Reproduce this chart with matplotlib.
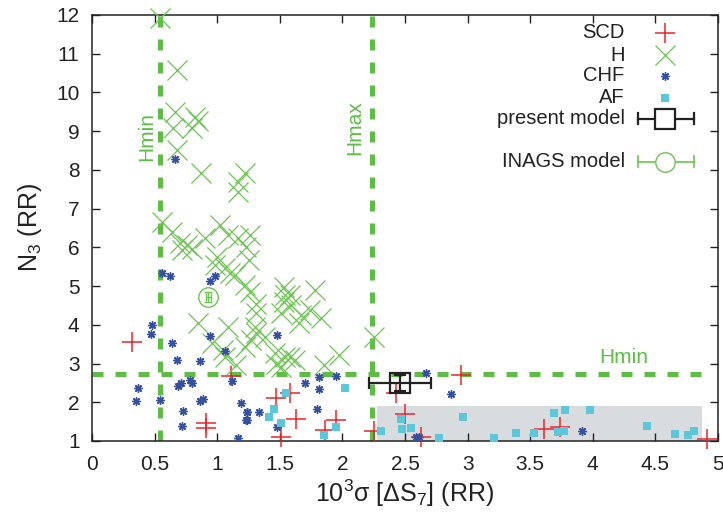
import matplotlib
matplotlib.use("Agg")
import matplotlib.pyplot as plt

plt.rcParams['font.family'] = ['Liberation Sans', 'DejaVu Sans']
plt.rcParams['mathtext.default'] = 'regular'

# ---------------- data ----------------
scd_x = [0.32, 1.11, 0.91, 0.91, 1.58, 1.47, 1.63, 1.51, 1.86, 1.95, 2.25, 2.43,
         2.95, 2.50, 2.63, 3.61, 3.74, 4.91]
scd_y = [3.56, 2.68, 1.47, 1.33, 2.23, 2.12, 1.57, 1.10, 1.28, 1.54, 1.26, 2.25,
         2.70, 1.71, 1.11, 1.31, 1.37, 1.06]

h_x = [0.54, 0.68, 0.66, 0.65, 0.82, 0.80, 0.85, 0.68, 0.87, 1.22, 1.17, 1.17,
       0.56, 0.64, 0.70, 0.76, 0.72, 0.80, 0.90, 1.02, 1.09, 1.17, 0.98, 1.06,
       1.14, 1.22, 1.23, 1.00, 1.10,
       1.26, 1.25, 1.26, 1.31, 1.31, 1.53, 1.54, 1.58, 1.53, 1.59, 1.78, 1.74,
       1.67, 1.83, 1.51,
       1.30, 1.27, 1.38, 1.46, 1.54, 1.51, 1.62, 1.65, 1.85, 1.97, 2.25,
       0.85, 1.09, 0.96, 1.06, 1.22, 1.05, 1.31, 1.15, 1.47, 1.58]
h_y = [11.92, 10.57, 9.50, 9.07, 9.37, 9.07, 9.26, 8.51, 7.91, 7.91, 7.69, 7.43,
       6.66, 6.40, 6.10, 6.06, 5.93, 5.97, 6.23, 6.57, 6.32, 6.23, 5.54, 5.46,
       5.28, 5.03, 6.01, 5.76, 5.33,
       6.32, 5.67, 4.85, 4.55, 4.30, 4.98, 4.77, 4.77, 4.60, 4.51, 4.90, 4.38,
       4.25, 4.17, 4.30,
       3.95, 3.61, 3.69, 3.26, 3.18, 2.92, 3.09, 4.04, 2.96, 3.22, 3.69,
       4.04, 3.95, 3.52, 3.18, 3.43, 3.35, 3.78, 2.95, 3.00, 3.18]

chf_x = [0.48, 0.47, 0.64, 0.68, 0.86, 0.94, 1.06, 1.12, 0.37, 0.35, 0.54, 0.69,
         0.71, 0.78, 0.80, 0.86, 0.89, 0.73, 0.72, 1.19, 1.24, 1.23, 1.17,
         0.56, 0.62, 0.94, 0.98, 0.66,
         1.48, 1.70, 1.81, 1.95, 1.81, 1.80, 1.33, 1.24, 1.24, 1.48,
         2.67, 2.87, 2.59, 2.61, 3.91]
chf_y = [3.99, 3.77, 3.53, 3.08, 3.06, 3.71, 3.32, 2.55, 2.36, 2.03, 2.05, 2.43,
         2.50, 2.57, 2.49, 2.04, 2.08, 1.78, 1.40, 1.97, 1.75, 1.54, 1.08,
         5.34, 5.25, 5.13, 5.25, 8.28,
         3.74, 2.49, 2.64, 2.68, 2.33, 1.82, 1.74, 1.76, 1.54, 1.37,
         2.76, 2.21, 1.11, 1.11, 1.26]

af_x = [1.55, 1.45, 1.41, 1.51, 1.95, 1.85, 2.02, 2.31,
        2.47, 2.48, 2.55, 2.96, 2.77, 3.21, 3.39, 3.53, 3.69, 3.78, 3.98,
        3.72, 3.77, 4.43, 4.66, 4.76, 4.81]
af_y = [2.23, 1.82, 1.61, 1.46, 1.35, 1.15, 2.36, 1.26,
        1.58, 1.31, 1.33, 1.61, 1.09, 1.09, 1.20, 1.21, 1.72, 1.79, 1.79,
        1.23, 1.26, 1.38, 1.17, 1.15, 1.25]

present_x, present_y = [2.46], [2.50]
present_xerr, present_yerr = [0.25], [0.2]
inags_x, inags_y = [0.93], [4.72]
inags_xerr, inags_yerr = [0.02], [0.12]

hmin_x = 0.54
hmax_x = 2.235
hmin_y = 2.73
hline_xrange = [0.0, 4.88]
af_box_x = [2.28, 4.87]
af_box_y = [1.0, 1.9]

legend_labels = ['SCD', 'H', 'CHF', 'AF', 'present model', 'INAGS model']

xticks = [0, 0.5, 1, 1.5, 2, 2.5, 3, 3.5, 4, 4.5, 5]
xticklabels = ['0', '0.5', '1', '1.5', '2', '2.5', '3', '3.5', '4', '4.5', '5']
yticks = list(range(1, 13))

# ---------------- style ----------------
GREEN = '#5dbd45'
XGREEN = '#6cc453'
RED = '#e8262b'
BLUE = '#34509e'
CYAN = '#5cc6da'
GREY = '#d9dcdf'
ast = (8, 2, 0)

fig = plt.figure(figsize=(7.23, 5.13), dpi=100)
ax = fig.add_axes([92 / 723, 1 - 441 / 513, 626 / 723, 426 / 513])
ax.set_xlim(0, 5)
ax.set_ylim(1, 12)

ax.fill_between(af_box_x, af_box_y[0], af_box_y[1], color=GREY, lw=0, zorder=0)

dash = (2.2, 2.4)
ax.plot([hmin_x, hmin_x], [1, 12], color=GREEN, lw=3.6, dashes=dash, zorder=1,
        dash_capstyle='butt')
ax.plot([hmax_x, hmax_x], [1, 12], color=GREEN, lw=3.6, dashes=dash, zorder=1,
        dash_capstyle='butt')
ax.plot(hline_xrange, [hmin_y, hmin_y], color=GREEN, lw=3.6, dashes=dash, zorder=1,
        dash_capstyle='butt')

ax.text(0.44, 8.85, 'Hmin', rotation=90, color=GREEN, fontsize=15, ha='center', va='center')
ax.text(2.10, 9.10, 'Hmax', rotation=90, color=GREEN, fontsize=15, ha='center', va='center')
ax.text(4.25, 3.15, 'Hmin', color=GREEN, fontsize=15, ha='center', va='center')

ax.plot(scd_x, scd_y, ls='none', marker='+', ms=15, mew=1.1, color=RED, zorder=3, clip_on=False)
ax.plot(h_x, h_y, ls='none', marker='x', ms=14, mew=0.9, color=XGREEN, zorder=3, clip_on=False)
ax.plot(chf_x, chf_y, ls='none', marker=ast, ms=6, mew=1.0, color=BLUE, zorder=4)
ax.plot(af_x, af_y, ls='none', marker='s', ms=6, mew=0, color=CYAN, zorder=4)

ax.errorbar(present_x, present_y, xerr=present_xerr, yerr=present_yerr, fmt='s',
            ms=14, mfc='none', mec='#222222', mew=1.6, ecolor='#222222', elinewidth=1.6,
            capsize=4, capthick=1.6, zorder=5)
ax.errorbar(inags_x, inags_y, xerr=inags_xerr, yerr=inags_yerr, fmt='o',
            ms=14, mfc='none', mec=XGREEN, mew=1.0, ecolor=XGREEN, elinewidth=1.0,
            capsize=3, zorder=5)

# legend (manual, in axes fraction)
tx = 0.851
mx = 0.915
rows = [0.958, 0.906, 0.857, 0.806, 0.757, 0.656]
for lab, ry in zip(legend_labels, rows):
    ax.text(tx, ry, lab, transform=ax.transAxes, ha='right', va='center',
            fontsize=14.5, color='#222222')
T = ax.transAxes
ax.plot([mx], [rows[0]], transform=T, marker='+', ms=15, mew=1.1, color=RED, ls='none')
ax.plot([mx], [rows[1]], transform=T, marker='x', ms=14, mew=0.9, color=XGREEN, ls='none')
ax.plot([mx], [rows[2]], transform=T, marker=ast, ms=6, mew=1.0, color=BLUE, ls='none')
ax.plot([mx], [rows[3]], transform=T, marker='s', ms=6, mew=0, color=CYAN, ls='none')
ex0, ex1 = 0.872, 0.961
ax.plot([ex0, ex1], [rows[4]] * 2, transform=T, color='#222222', lw=1.6)
ax.plot([ex0, ex0], [rows[4] - 0.012, rows[4] + 0.012], transform=T, color='#222222', lw=1.6)
ax.plot([ex1, ex1], [rows[4] - 0.012, rows[4] + 0.012], transform=T, color='#222222', lw=1.6)
ax.plot([mx], [rows[4]], transform=T, marker='s', ms=14, mfc='white', mec='#222222', mew=1.6)
ax.plot([ex0, ex1], [rows[5]] * 2, transform=T, color=XGREEN, lw=1.2)
ax.plot([ex0, ex0], [rows[5] - 0.012, rows[5] + 0.012], transform=T, color=XGREEN, lw=1.2)
ax.plot([ex1, ex1], [rows[5] - 0.012, rows[5] + 0.012], transform=T, color=XGREEN, lw=1.2)
ax.plot([mx], [rows[5]], transform=T, marker='o', ms=14, mfc='white', mec=XGREEN, mew=1.0)

ax.set_xticks(xticks)
ax.set_xticklabels(xticklabels)
ax.set_yticks(yticks)
ax.tick_params(direction='in', top=True, right=True, length=6, width=1.0,
               labelsize=15, colors='#222222')
ax.tick_params(axis='x', pad=10)
ax.tick_params(axis='y', pad=9)
for s in ax.spines.values():
    s.set_linewidth(1.1)
    s.set_color('#222222')

ax.set_xlabel('10$^{3}$σ [ΔS$_{7}$] (RR)', fontsize=18, color='#222222', labelpad=3)
ax.set_ylabel('N$_{3}$ (RR)', fontsize=18, color='#222222', labelpad=9)

fig.savefig('out.png', dpi=100)
